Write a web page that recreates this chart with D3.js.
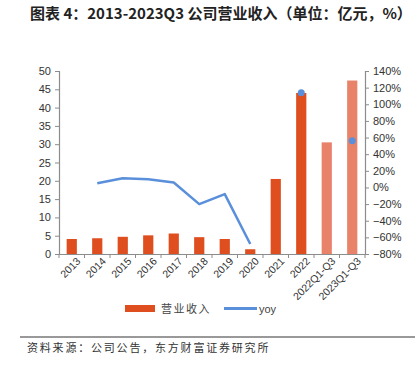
<!DOCTYPE html>
<html>
<head>
<meta charset="utf-8">
<script src="https://cdn.jsdelivr.net/npm/d3@7"></script>
<style>
  body { margin: 0; background: #fff; }
  svg { display: block; font-family: Arial, "Liberation Sans", "Noto Sans CJK SC", sans-serif; }
</style>
</head>
<body>
<div id="chart"></div>
<script>
// categories + values
const categories = ['2013', '2014', '2015', '2016', '2017', '2018', '2019', '2020', '2021', '2022', '2022Q1-Q3', '2023Q1-Q3'];
const revenue = [4.1, 4.3, 4.7, 5.1, 5.6, 4.6, 4.1, 1.3, 20.5, 44.0, 30.5, 47.4];
const yoyLine = [null, 5, 11, 10, 6, -20, -8, -68, null, null, null, null];
const yoyDots = [null, null, null, null, null, null, null, null, null, 114, null, 56];
const leftTicks = [0, 5, 10, 15, 20, 25, 30, 35, 40, 45, 50];
const rightTicks = [-80, -60, -40, -20, 0, 20, 40, 60, 80, 100, 120, 140];

const width = 415, height = 368;
const margin = { left: 59, right: 50, top: 71, bottom: 114 };
const barColor = '#DF4E1E', lightColor = '#E8836A', lineColor = '#5A8FDB';

const svg = d3.select('#chart').append('svg')
    .attr('width', width)
    .attr('height', height);

// title
svg.append('text')
    .attr('x', 30).attr('y', 19)
    .attr('font-family', '"Noto Sans CJK SC", sans-serif')
    .attr('font-weight', 'bold')
    .attr('font-size', 15)
    .attr('fill', '#222')
    .text('图表 4：2013-2023Q3 公司营业收入（单位：亿元，%）');

const x = d3.scaleBand()
    .domain(categories)
    .range([margin.left, width - margin.right])
    .paddingInner(0.6)
    .paddingOuter(0.3);

const yL = d3.scaleLinear().domain([0, 50]).range([height - margin.bottom, margin.top]);
const yR = d3.scaleLinear().domain([-80, 140]).range([height - margin.bottom, margin.top]);

// bars
svg.append('g').selectAll('rect')
    .data(categories)
    .enter()
    .append('rect')
    .attr('x', d => x(d))
    .attr('y', (d, i) => yL(revenue[i]))
    .attr('width', x.bandwidth())
    .attr('height', (d, i) => yL(0) - yL(revenue[i]))
    .attr('fill', (d, i) => i >= 10 ? lightColor : barColor);

// yoy line
const line = d3.line()
    .defined(d => d.v !== null)
    .x(d => x(d.c) + x.bandwidth() / 2)
    .y(d => yR(d.v));

svg.append('path')
    .datum(categories.map((c, i) => ({ c, v: yoyLine[i] })))
    .attr('d', line)
    .attr('fill', 'none')
    .attr('stroke', lineColor)
    .attr('stroke-width', 2.5)
    .attr('stroke-linejoin', 'round');

svg.append('g').selectAll('circle')
    .data(categories.map((c, i) => ({ c, v: yoyDots[i] })).filter(d => d.v !== null))
    .enter()
    .append('circle')
    .attr('cx', d => x(d.c) + x.bandwidth() / 2)
    .attr('cy', d => yR(d.v))
    .attr('r', 3.5)
    .attr('fill', lineColor);

// axes
const axisColor = '#8c8c8c';
const gL = svg.append('g')
    .attr('transform', `translate(${margin.left},0)`)
    .call(d3.axisLeft(yL).tickValues(leftTicks).tickSize(4).tickPadding(4));

const gR = svg.append('g')
    .attr('transform', `translate(${width - margin.right},0)`)
    .call(d3.axisRight(yR).tickValues(rightTicks).tickSize(4).tickPadding(4)
        .tickFormat(d => (d < 0 ? '\u2212' + (-d) : d) + '%'));

const gX = svg.append('g')
    .attr('transform', `translate(0,${yL(0)})`)
    .call(d3.axisBottom(x).tickSize(0).tickPadding(6));

// category boundary ticks on x axis
const bounds = d3.range(categories.length + 1).map(i => margin.left + i * (width - margin.left - margin.right) / categories.length);
svg.append('g').selectAll('line')
    .data(bounds)
    .enter()
    .append('line')
    .attr('x1', d => d).attr('x2', d => d)
    .attr('y1', yL(0)).attr('y2', yL(0) + 4)
    .attr('stroke', axisColor);

[gL, gR, gX].forEach(g => {
    g.select('.domain').attr('stroke', axisColor).attr('stroke-width', 1.2);
    g.selectAll('.tick line').attr('stroke', axisColor);
    g.selectAll('.tick text').attr('fill', '#333').attr('font-size', 11);
});

gX.selectAll('.tick text')
    .attr('font-size', 10.5)
    .attr('text-anchor', 'end')
    .attr('dx', '0.1em')
    .attr('dy', '0.6em')
    .attr('transform', 'rotate(-45)');

// legend
const leg = svg.append('g').attr('font-family', '"Noto Sans CJK SC", sans-serif');
leg.append('rect').attr('x', 125).attr('y', 305).attr('width', 30).attr('height', 7).attr('fill', barColor);
leg.append('text').attr('x', 161).attr('y', 313).attr('font-size', 11).attr('letter-spacing', 1.5)
    .attr('fill', '#444').text('营业收入');
leg.append('line').attr('x1', 224).attr('x2', 257).attr('y1', 308.5).attr('y2', 308.5)
    .attr('stroke', lineColor).attr('stroke-width', 3);
leg.append('text').attr('x', 259).attr('y', 313).attr('font-size', 11).attr('fill', '#444')
    .attr('font-family', 'Arial, "Liberation Sans", sans-serif').text('yoy');

// source line + note
svg.append('line')
    .attr('x1', 20).attr('x2', 415)
    .attr('y1', 337).attr('y2', 337)
    .attr('stroke', '#777').attr('stroke-width', 1.5);
svg.append('text')
    .attr('x', 27).attr('y', 352)
    .attr('font-family', '"Noto Sans CJK SC", sans-serif')
    .attr('font-size', 11)
    .attr('letter-spacing', 1.8)
    .attr('fill', '#333')
    .text('资料来源：公司公告，东方财富证券研究所');
</script>
</body>
</html>
